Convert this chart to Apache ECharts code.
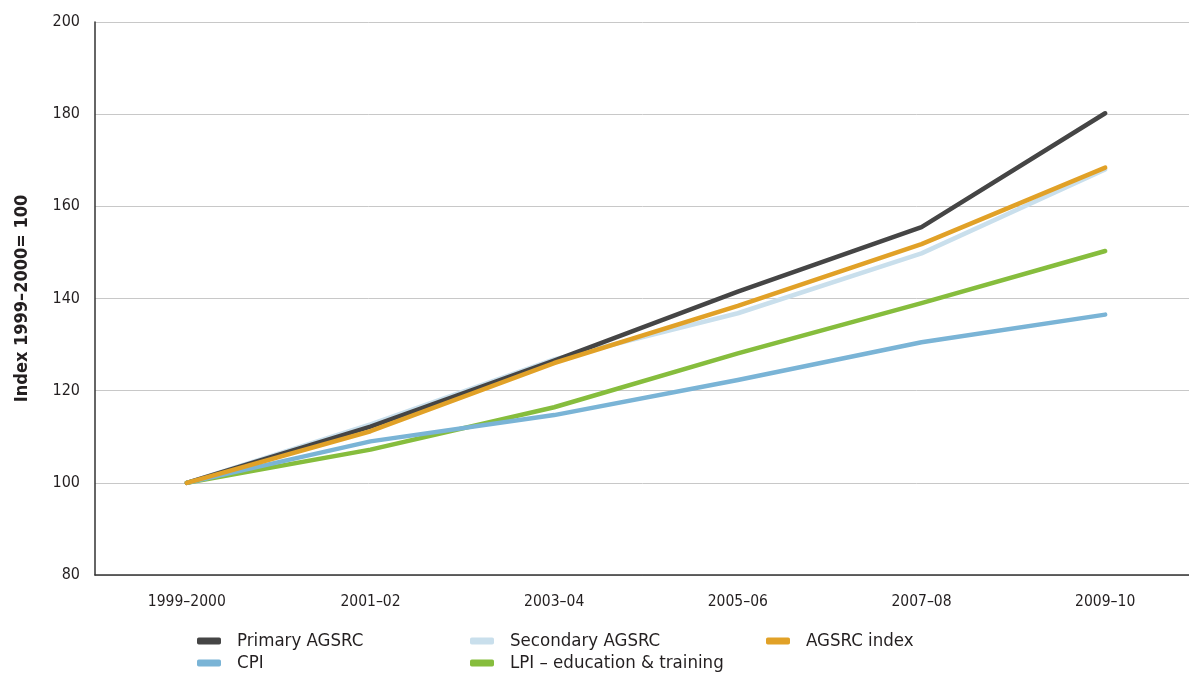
<!DOCTYPE html>
<html>
<head>
<meta charset="utf-8">
<script src="https://cdn.jsdelivr.net/npm/echarts@6/dist/echarts.min.js"></script>
<style>
html,body{margin:0;padding:0;background:#fff;}
#chart{width:1189px;height:673px;}
</style>
</head>
<body>
<div id="chart"></div>
<script>
const categories = ['1999–2000', '2001–02', '2003–04', '2005–06', '2007–08', '2009–10'];
const primaryAGSRC = [100, 112.2, 126.5, 141.5, 155.5, 180.2];
const secondaryAGSRC = [100, 112.7, 126.8, 136.8, 149.8, 168.0];
const agsrcIndex = [100, 111.2, 126.0, 138.4, 151.8, 168.4];
const cpi = [100, 109.0, 114.7, 122.3, 130.5, 136.5];
const lpiEducation = [100, 107.2, 116.4, 128.1, 139.0, 150.3];
const yTicks = [80, 100, 120, 140, 160, 180, 200];

const FONT = "'DejaVu Sans Condensed', 'DejaVu Sans', sans-serif";
const TXT = '#231f20';

const chart = echarts.init(document.getElementById('chart'));

function mkSeries(name, data, color, z) {
  return {
    name: name, type: 'line', data: data, z: z,
    showSymbol: false, symbol: 'none', smooth: false,
    lineStyle: {color: color, width: 4.5, cap: 'round', join: 'round'},
    itemStyle: {color: color},
    emphasis: {disabled: true}
  };
}

function mkLegend(name, left, top) {
  return {
    data: [name], left: left, top: top,
    icon: 'roundRect', itemWidth: 24, itemHeight: 7,
    selectedMode: false,
    textStyle: {fontFamily: FONT, fontSize: 18.5, color: TXT, lineHeight: 20, padding: [0, 0, 0, 11]}
  };
}

chart.setOption({
  animation: false,
  backgroundColor: '#ffffff',
  grid: {left: 95, right: -8, top: 22, bottom: 98, containLabel: false, outerBoundsMode: 'none'},
  legend: [
    mkLegend('Primary AGSRC', 192, 626),
    mkLegend('Secondary AGSRC', 465, 626),
    mkLegend('AGSRC index', 761, 626),
    mkLegend('CPI', 192, 648),
    mkLegend('LPI – education & training', 465, 648)
  ],
  xAxis: {
    type: 'category', data: categories, boundaryGap: true,
    axisLine: {show: true, lineStyle: {color: '#333', width: 1.5}},
    axisTick: {show: false},
    axisLabel: {fontFamily: FONT, fontSize: 15.5, color: TXT, margin: 19},
    splitLine: {show: false}
  },
  yAxis: {
    type: 'value', min: yTicks[0], max: yTicks[yTicks.length - 1], interval: 20,
    name: 'Index 1999–2000= 100', nameLocation: 'middle', nameGap: 64, nameRotate: 90,
    nameTextStyle: {fontFamily: FONT, fontSize: 18, fontWeight: 'bold', color: TXT},
    axisLine: {show: true, lineStyle: {color: '#333', width: 1.5}},
    axisTick: {show: false},
    axisLabel: {fontFamily: FONT, fontSize: 16, color: TXT, margin: 15},
    splitLine: {show: true, lineStyle: {color: '#c8c8c8', width: 1}}
  },
  series: [
    mkSeries('Secondary AGSRC', secondaryAGSRC, '#c9dfec', 2),
    mkSeries('Primary AGSRC', primaryAGSRC, '#454545', 3),
    mkSeries('LPI – education & training', lpiEducation, '#86bd3d', 4),
    mkSeries('CPI', cpi, '#7ab4d6', 5),
    mkSeries('AGSRC index', agsrcIndex, '#e1a127', 6)
  ]
});
</script>
</body>
</html>
